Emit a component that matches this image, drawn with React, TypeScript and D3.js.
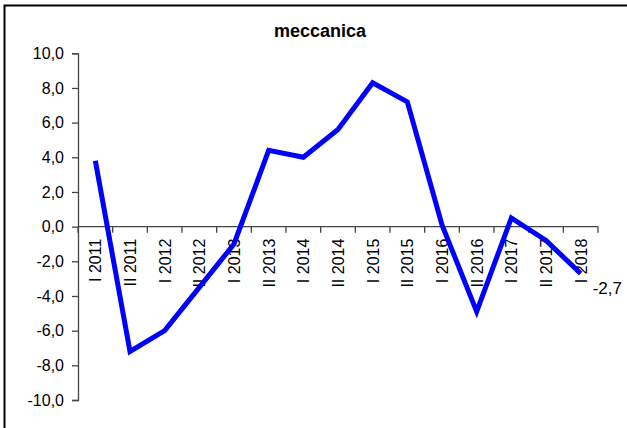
import React, { useEffect, useRef } from "react";
import * as d3 from "d3";

const categories = [
  "I 2011", "II 2011", "I 2012", "II 2012", "I 2013", "II 2013", "I 2014", "II 2014",
  "I 2015", "II 2015", "I 2016", "II 2016", "I 2017", "II 2017", "I 2018",
];
const values = [3.8, -7.2, -6.0, -3.5, -1.0, 4.4, 4.0, 5.6, 8.3, 7.2, 0.1, -4.9, 0.5, -0.8, -2.7];
const yTicks = [10, 8, 6, 4, 2, 0, -2, -4, -6, -8, -10];
const title = "meccanica";

const W = 627;
const H = 428;

// one decimal, comma separator, ASCII hyphen for negatives
const fmt = (v: number) => v.toFixed(1).replace(".", ",");

export default function App() {
  const ref = useRef<SVGSVGElement>(null);

  useEffect(() => {
    const svg = d3.select(ref.current);
    svg.selectAll("*").remove();
    const font = "Arial, 'Liberation Sans', sans-serif";

    // frame
    svg.append("rect")
      .attr("x", 4.5).attr("y", 5.5)
      .attr("width", 640).attr("height", 440)
      .attr("fill", "#fff").attr("stroke", "#000").attr("stroke-width", 2);

    const x = d3.scaleBand().domain(categories).range([78, 598]);
    const y = d3.scaleLinear().domain([-10, 10]).range([400, 53.3]);

    // y axis
    const yAxis = svg.append("g").attr("transform", "translate(78,0)")
      .call(d3.axisLeft(y).tickValues(yTicks).tickSize(6).tickPadding(8)
        .tickFormat((d) => fmt(d as number)));
    yAxis.select(".domain").attr("stroke", "#444").attr("stroke-width", 1.3);
    yAxis.selectAll(".tick line").attr("stroke", "#444").attr("stroke-width", 1.3);
    yAxis.selectAll("text").attr("font-family", font).attr("font-size", 16).attr("fill", "#000");

    // x axis at zero, tick marks on band edges
    const x0 = y(0);
    const xg = svg.append("g");
    xg.append("line")
      .attr("x1", 78).attr("x2", 598).attr("y1", x0).attr("y2", x0)
      .attr("stroke", "#444").attr("stroke-width", 1.3);
    const edges = categories.map((c) => x(c)!).concat([x.range()[1]]);
    xg.selectAll("line.edge").data(edges).enter().append("line")
      .attr("class", "edge")
      .attr("x1", (d) => d).attr("x2", (d) => d)
      .attr("y1", x0).attr("y2", x0 + 6)
      .attr("stroke", "#444").attr("stroke-width", 1.3);
    xg.selectAll("text").data(categories).enter().append("text")
      .attr("transform", (d) => `translate(${x(d)! + x.bandwidth() / 2 + 6},${x0 + 12}) rotate(-90)`)
      .attr("text-anchor", "end")
      .attr("font-family", font).attr("font-size", 16).attr("fill", "#000")
      .text((d) => d);

    // series line
    const line = d3.line<number>()
      .x((_, i) => x(categories[i])! + x.bandwidth() / 2)
      .y((d) => y(d));
    svg.append("path").datum(values)
      .attr("d", line)
      .attr("fill", "none").attr("stroke", "#0000ff")
      .attr("stroke-width", 5).attr("stroke-linejoin", "miter");

    // last value label
    const last = values[values.length - 1];
    svg.append("text")
      .attr("x", x(categories[categories.length - 1])! + x.bandwidth() / 2 + 12)
      .attr("y", y(last) + 21)
      .attr("font-family", font).attr("font-size", 17).attr("fill", "#000")
      .text(fmt(last));

    // title
    svg.append("text")
      .attr("x", 320).attr("y", 37)
      .attr("text-anchor", "middle")
      .attr("font-family", font).attr("font-size", 18).attr("font-weight", "bold")
      .text(title);
  }, []);

  return (
    <svg ref={ref} width={W} height={H}
      style={{ position: "absolute", left: 0, top: 0, background: "#fff" }} />
  );
}
